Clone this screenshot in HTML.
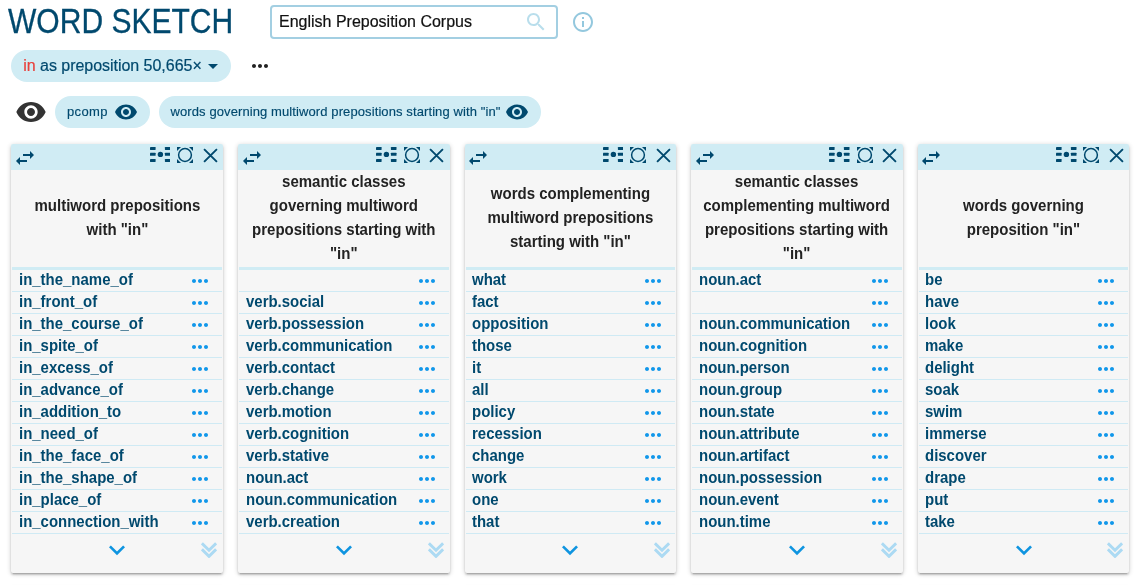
<!DOCTYPE html>
<html lang="en"><head><meta charset="utf-8"><title>Word Sketch</title>
<style>
*{box-sizing:border-box;margin:0;padding:0}
html,body{width:1140px;height:585px;overflow:hidden;background:#fff}
body{font-family:"Liberation Sans",sans-serif;color:#00496e;position:relative}
svg{display:block}
.title{position:absolute;left:8px;top:1px;font-size:35px;line-height:40px;color:#00496e;white-space:nowrap;font-weight:400;transform-origin:0 0;transform:scaleX(.858);-webkit-text-stroke:.3px #00496e}
.search{position:absolute;left:270px;top:5px;width:288px;height:34px;border:2px solid #a3cfe2;border-radius:4px;background:#fff}
.search span{position:absolute;left:7px;top:-.5px;line-height:30px;font-size:16px;color:#111;white-space:nowrap;-webkit-text-stroke:.2px}
.search svg{position:absolute;right:7.800px;top:2.600px;width:24px;height:24px;fill:#b9deec}
.info{position:absolute;left:570.500px;top:10px;width:24px;height:24px;fill:#94c8de}
.chip{position:absolute;background:#d0ecf4;border-radius:16px;height:32px;white-space:nowrap;color:#00496e}
.chip1{left:11px;top:50px;width:220px;font-size:16px;line-height:32px;padding-left:12.200px;letter-spacing:-.03px;-webkit-text-stroke:.2px}
.chip1 b{font-weight:400;color:#e8413c}
.chip1 svg{position:absolute;left:190px;top:4px;width:24px;height:24px;fill:#00496e}
.more{position:absolute;left:248px;top:54px;width:24px;height:24px;fill:#222}
.bigeye{position:absolute;left:15px;top:96px;width:32px;height:32px;fill:#333}
.chip2{-webkit-text-stroke:.15px;left:55px;top:96px;width:95px;font-size:13px;letter-spacing:.35px;line-height:32px;padding-left:12px}
.chip3{-webkit-text-stroke:.15px;left:159px;top:96px;width:382px;font-size:13px;letter-spacing:.1px;line-height:32px;padding-left:11.500px}
.chip svg.eye{position:absolute;right:12.500px;top:4px;width:24px;height:24px;fill:#00496e}
.card{position:absolute;top:144px;border-radius:2px;overflow:hidden;width:211.600px;height:429px;background:#f6f6f6;box-shadow:0 2px 2px 0 rgba(0,0,0,.14),0 3px 1px -2px rgba(0,0,0,.12),0 1px 5px 0 rgba(0,0,0,.2)}
.hd{position:absolute;left:0;top:0;right:0;height:26px;background:#d0ecf4;color:#00496e}
.hd svg{position:absolute;fill:currentColor}
.i-swap{left:1.500px;top:2.400px;width:24px;height:24px}
.i-vis{left:138.300px;top:3.200px;width:20.500px;height:15px}
.i-circ{left:165.500px;top:3px;width:16px;height:16px}
.i-x{left:191.200px;top:3.500px;width:15px;height:15px}
.tt{position:absolute;left:-10px;right:-10px;top:25px;height:97px;display:flex;align-items:center;justify-content:center;text-align:center;font-weight:700;font-size:16px;line-height:24px;color:#222;white-space:nowrap}
.tt div{transform:scaleX(.9375)}
.tb{position:absolute;left:1px;right:1px;top:123px;border-top:3px solid #d0ecf4}
.r{height:22px;border-bottom:1px solid #cfeaf4;position:relative;font-weight:700;font-size:16px;line-height:19px;padding-left:6.600px;color:#00496e;white-space:nowrap}
.r span{display:inline-block;transform-origin:0 50%;transform:scaleX(.935)}
.r svg{position:absolute;left:175.500px;top:-1px;width:24px;height:24px;fill:#1197ea}
.ft svg{position:absolute}
.i-chev{left:89.800px;top:390px;width:32px;height:32px;fill:#0e94e0}
.i-chev2{left:189.700px;top:398.200px;width:16px;height:16px;color:#acdaf3}
</style></head><body>
<div class="title">WORD SKETCH</div>
<div class="search"><span>English Preposition Corpus</span><svg viewBox="0 0 24 24"><path d="M15.500 14h-.79l-.28-.27C15.410 12.590 16 11.110 16 9.500 16 5.910 13.090 3 9.500 3S3 5.910 3 9.500 5.910 16 9.500 16c1.610 0 3.090-.59 4.230-1.570l.27.28v.79l5 4.990L20.490 19l-4.990-5zm-6 0C7.010 14 5 11.990 5 9.500S7.010 5 9.500 5 14 7.010 14 9.500 11.990 14 9.500 14z"/></svg></div>
<svg class="info" viewBox="0 0 24 24"><path d="M11 17h2v-6h-2v6zm1-15C6.480 2 2 6.480 2 12s4.480 10 10 10 10-4.480 10-10S17.520 2 12 2zm0 18c-4.410 0-8-3.590-8-8s3.590-8 8-8 8 3.590 8 8-3.590 8-8 8zM11 9h2V7h-2v2z"/></svg>
<div class="chip chip1"><b>in</b> as preposition 50,665× <svg viewBox="0 0 24 24"><path d="M7 10l5 5 5-5z"/></svg></div>
<svg class="more" viewBox="0 0 24 24"><path d="M6 10c-1.100 0-2 .9-2 2s.9 2 2 2 2-.9 2-2-.9-2-2-2zm12 0c-1.100 0-2 .9-2 2s.9 2 2 2 2-.9 2-2-.9-2-2-2zm-6 0c-1.100 0-2 .9-2 2s.9 2 2 2 2-.9 2-2-.9-2-2-2z"/></svg>
<svg class="bigeye" viewBox="0 0 24 24"><path d="M12 4.500C7 4.500 2.730 7.610 1 12c1.730 4.390 6 7.500 11 7.500s9.270-3.110 11-7.500c-1.730-4.390-6-7.500-11-7.500zM12 17c-2.760 0-5-2.240-5-5s2.240-5 5-5 5 2.240 5 5-2.240 5-5 5zm0-8c-1.660 0-3 1.340-3 3s1.340 3 3 3 3-1.340 3-3-1.340-3-3-3z"/></svg>
<div class="chip chip2">pcomp<svg class="eye" viewBox="0 0 24 24"><path d="M12 4.500C7 4.500 2.730 7.610 1 12c1.730 4.390 6 7.500 11 7.500s9.270-3.110 11-7.500c-1.730-4.390-6-7.500-11-7.500zM12 17c-2.760 0-5-2.240-5-5s2.240-5 5-5 5 2.240 5 5-2.240 5-5 5zm0-8c-1.660 0-3 1.340-3 3s1.340 3 3 3 3-1.340 3-3-1.340-3-3-3z"/></svg></div>
<div class="chip chip3">words governing multiword prepositions starting with "in"<svg class="eye" viewBox="0 0 24 24"><path d="M12 4.500C7 4.500 2.730 7.610 1 12c1.730 4.390 6 7.500 11 7.500s9.270-3.110 11-7.500c-1.730-4.390-6-7.500-11-7.500zM12 17c-2.760 0-5-2.240-5-5s2.240-5 5-5 5 2.240 5 5-2.240 5-5 5zm0-8c-1.660 0-3 1.340-3 3s1.340 3 3 3 3-1.340 3-3-1.340-3-3-3z"/></svg></div>
<div class="card" style="left:11.40px">
<div class="hd"><svg class="i-swap" viewBox="0 0 24 24"><path d="M6.99 11L3 15l3.990 4v-3H14v-2H6.990v-3zM21 9l-3.990-4v3H10v2h7.010v3L21 9z"/></svg><svg class="i-vis" viewBox="0 0 20.500 15"><g fill="currentColor"><rect x="0" y="0" width="5.600" height="2.900" rx="0.400"/><rect x="0" y="5.800" width="5.600" height="3" rx="0.400"/><rect x="0" y="12" width="5.600" height="3" rx="0.400"/><rect x="14.900" y="0" width="5.600" height="2.900" rx="0.400"/><rect x="14.900" y="5.800" width="5.600" height="3" rx="0.400"/><rect x="14.900" y="12" width="5.600" height="3" rx="0.400"/><circle cx="10.400" cy="7.400" r="2.700"/></g></svg><svg class="i-circ" viewBox="0 0 16 16"><circle cx="8" cy="8" r="6.400" fill="none" stroke="currentColor" stroke-width="1.500"/><g fill="currentColor"><path d="M0 0h4L0 4z"/><path d="M16 0h-4l4 4z"/><path d="M0 16h4L0 12z"/><path d="M16 16h-4l4-4z"/></g></svg><svg class="i-x" viewBox="0 0 14 14"><path d="M1 1L13 13M13 1L1 13" stroke="currentColor" stroke-width="1.800" fill="none"/></svg></div>
<div class="tt"><div>multiword prepositions<br>with "in"</div></div>
<div class="tb">
<div class="r"><span>in_the_name_of</span><svg viewBox="0 0 24 24"><path d="M6 10c-1.100 0-2 .9-2 2s.9 2 2 2 2-.9 2-2-.9-2-2-2zm12 0c-1.100 0-2 .9-2 2s.9 2 2 2 2-.9 2-2-.9-2-2-2zm-6 0c-1.100 0-2 .9-2 2s.9 2 2 2 2-.9 2-2-.9-2-2-2z"/></svg></div>
<div class="r"><span>in_front_of</span><svg viewBox="0 0 24 24"><path d="M6 10c-1.100 0-2 .9-2 2s.9 2 2 2 2-.9 2-2-.9-2-2-2zm12 0c-1.100 0-2 .9-2 2s.9 2 2 2 2-.9 2-2-.9-2-2-2zm-6 0c-1.100 0-2 .9-2 2s.9 2 2 2 2-.9 2-2-.9-2-2-2z"/></svg></div>
<div class="r"><span>in_the_course_of</span><svg viewBox="0 0 24 24"><path d="M6 10c-1.100 0-2 .9-2 2s.9 2 2 2 2-.9 2-2-.9-2-2-2zm12 0c-1.100 0-2 .9-2 2s.9 2 2 2 2-.9 2-2-.9-2-2-2zm-6 0c-1.100 0-2 .9-2 2s.9 2 2 2 2-.9 2-2-.9-2-2-2z"/></svg></div>
<div class="r"><span>in_spite_of</span><svg viewBox="0 0 24 24"><path d="M6 10c-1.100 0-2 .9-2 2s.9 2 2 2 2-.9 2-2-.9-2-2-2zm12 0c-1.100 0-2 .9-2 2s.9 2 2 2 2-.9 2-2-.9-2-2-2zm-6 0c-1.100 0-2 .9-2 2s.9 2 2 2 2-.9 2-2-.9-2-2-2z"/></svg></div>
<div class="r"><span>in_excess_of</span><svg viewBox="0 0 24 24"><path d="M6 10c-1.100 0-2 .9-2 2s.9 2 2 2 2-.9 2-2-.9-2-2-2zm12 0c-1.100 0-2 .9-2 2s.9 2 2 2 2-.9 2-2-.9-2-2-2zm-6 0c-1.100 0-2 .9-2 2s.9 2 2 2 2-.9 2-2-.9-2-2-2z"/></svg></div>
<div class="r"><span>in_advance_of</span><svg viewBox="0 0 24 24"><path d="M6 10c-1.100 0-2 .9-2 2s.9 2 2 2 2-.9 2-2-.9-2-2-2zm12 0c-1.100 0-2 .9-2 2s.9 2 2 2 2-.9 2-2-.9-2-2-2zm-6 0c-1.100 0-2 .9-2 2s.9 2 2 2 2-.9 2-2-.9-2-2-2z"/></svg></div>
<div class="r"><span>in_addition_to</span><svg viewBox="0 0 24 24"><path d="M6 10c-1.100 0-2 .9-2 2s.9 2 2 2 2-.9 2-2-.9-2-2-2zm12 0c-1.100 0-2 .9-2 2s.9 2 2 2 2-.9 2-2-.9-2-2-2zm-6 0c-1.100 0-2 .9-2 2s.9 2 2 2 2-.9 2-2-.9-2-2-2z"/></svg></div>
<div class="r"><span>in_need_of</span><svg viewBox="0 0 24 24"><path d="M6 10c-1.100 0-2 .9-2 2s.9 2 2 2 2-.9 2-2-.9-2-2-2zm12 0c-1.100 0-2 .9-2 2s.9 2 2 2 2-.9 2-2-.9-2-2-2zm-6 0c-1.100 0-2 .9-2 2s.9 2 2 2 2-.9 2-2-.9-2-2-2z"/></svg></div>
<div class="r"><span>in_the_face_of</span><svg viewBox="0 0 24 24"><path d="M6 10c-1.100 0-2 .9-2 2s.9 2 2 2 2-.9 2-2-.9-2-2-2zm12 0c-1.100 0-2 .9-2 2s.9 2 2 2 2-.9 2-2-.9-2-2-2zm-6 0c-1.100 0-2 .9-2 2s.9 2 2 2 2-.9 2-2-.9-2-2-2z"/></svg></div>
<div class="r"><span>in_the_shape_of</span><svg viewBox="0 0 24 24"><path d="M6 10c-1.100 0-2 .9-2 2s.9 2 2 2 2-.9 2-2-.9-2-2-2zm12 0c-1.100 0-2 .9-2 2s.9 2 2 2 2-.9 2-2-.9-2-2-2zm-6 0c-1.100 0-2 .9-2 2s.9 2 2 2 2-.9 2-2-.9-2-2-2z"/></svg></div>
<div class="r"><span>in_place_of</span><svg viewBox="0 0 24 24"><path d="M6 10c-1.100 0-2 .9-2 2s.9 2 2 2 2-.9 2-2-.9-2-2-2zm12 0c-1.100 0-2 .9-2 2s.9 2 2 2 2-.9 2-2-.9-2-2-2zm-6 0c-1.100 0-2 .9-2 2s.9 2 2 2 2-.9 2-2-.9-2-2-2z"/></svg></div>
<div class="r"><span>in_connection_with</span><svg viewBox="0 0 24 24"><path d="M6 10c-1.100 0-2 .9-2 2s.9 2 2 2 2-.9 2-2-.9-2-2-2zm12 0c-1.100 0-2 .9-2 2s.9 2 2 2 2-.9 2-2-.9-2-2-2zm-6 0c-1.100 0-2 .9-2 2s.9 2 2 2 2-.9 2-2-.9-2-2-2z"/></svg></div>
</div>
<div class="ft"><svg class="i-chev" viewBox="0 0 24 24"><path d="M16.590 8.590L12 13.170 7.410 8.590 6 10l6 6 6-6z"/></svg><svg class="i-chev2" viewBox="0 0 16 16"><path d="M0.900 1.300L8 8.300L15.100 1.300M0.900 7.400L8 14.400L15.100 7.400" fill="none" stroke="currentColor" stroke-width="2.900"/></svg></div>
</div>
<div class="card" style="left:238.00px">
<div class="hd"><svg class="i-swap" viewBox="0 0 24 24"><path d="M6.99 11L3 15l3.990 4v-3H14v-2H6.990v-3zM21 9l-3.990-4v3H10v2h7.010v3L21 9z"/></svg><svg class="i-vis" viewBox="0 0 20.500 15"><g fill="currentColor"><rect x="0" y="0" width="5.600" height="2.900" rx="0.400"/><rect x="0" y="5.800" width="5.600" height="3" rx="0.400"/><rect x="0" y="12" width="5.600" height="3" rx="0.400"/><rect x="14.900" y="0" width="5.600" height="2.900" rx="0.400"/><rect x="14.900" y="5.800" width="5.600" height="3" rx="0.400"/><rect x="14.900" y="12" width="5.600" height="3" rx="0.400"/><circle cx="10.400" cy="7.400" r="2.700"/></g></svg><svg class="i-circ" viewBox="0 0 16 16"><circle cx="8" cy="8" r="6.400" fill="none" stroke="currentColor" stroke-width="1.500"/><g fill="currentColor"><path d="M0 0h4L0 4z"/><path d="M16 0h-4l4 4z"/><path d="M0 16h4L0 12z"/><path d="M16 16h-4l4-4z"/></g></svg><svg class="i-x" viewBox="0 0 14 14"><path d="M1 1L13 13M13 1L1 13" stroke="currentColor" stroke-width="1.800" fill="none"/></svg></div>
<div class="tt"><div>semantic classes<br>governing multiword<br>prepositions starting with<br>"in"</div></div>
<div class="tb">
<div class="r"><span></span><svg viewBox="0 0 24 24"><path d="M6 10c-1.100 0-2 .9-2 2s.9 2 2 2 2-.9 2-2-.9-2-2-2zm12 0c-1.100 0-2 .9-2 2s.9 2 2 2 2-.9 2-2-.9-2-2-2zm-6 0c-1.100 0-2 .9-2 2s.9 2 2 2 2-.9 2-2-.9-2-2-2z"/></svg></div>
<div class="r"><span>verb.social</span><svg viewBox="0 0 24 24"><path d="M6 10c-1.100 0-2 .9-2 2s.9 2 2 2 2-.9 2-2-.9-2-2-2zm12 0c-1.100 0-2 .9-2 2s.9 2 2 2 2-.9 2-2-.9-2-2-2zm-6 0c-1.100 0-2 .9-2 2s.9 2 2 2 2-.9 2-2-.9-2-2-2z"/></svg></div>
<div class="r"><span>verb.possession</span><svg viewBox="0 0 24 24"><path d="M6 10c-1.100 0-2 .9-2 2s.9 2 2 2 2-.9 2-2-.9-2-2-2zm12 0c-1.100 0-2 .9-2 2s.9 2 2 2 2-.9 2-2-.9-2-2-2zm-6 0c-1.100 0-2 .9-2 2s.9 2 2 2 2-.9 2-2-.9-2-2-2z"/></svg></div>
<div class="r"><span>verb.communication</span><svg viewBox="0 0 24 24"><path d="M6 10c-1.100 0-2 .9-2 2s.9 2 2 2 2-.9 2-2-.9-2-2-2zm12 0c-1.100 0-2 .9-2 2s.9 2 2 2 2-.9 2-2-.9-2-2-2zm-6 0c-1.100 0-2 .9-2 2s.9 2 2 2 2-.9 2-2-.9-2-2-2z"/></svg></div>
<div class="r"><span>verb.contact</span><svg viewBox="0 0 24 24"><path d="M6 10c-1.100 0-2 .9-2 2s.9 2 2 2 2-.9 2-2-.9-2-2-2zm12 0c-1.100 0-2 .9-2 2s.9 2 2 2 2-.9 2-2-.9-2-2-2zm-6 0c-1.100 0-2 .9-2 2s.9 2 2 2 2-.9 2-2-.9-2-2-2z"/></svg></div>
<div class="r"><span>verb.change</span><svg viewBox="0 0 24 24"><path d="M6 10c-1.100 0-2 .9-2 2s.9 2 2 2 2-.9 2-2-.9-2-2-2zm12 0c-1.100 0-2 .9-2 2s.9 2 2 2 2-.9 2-2-.9-2-2-2zm-6 0c-1.100 0-2 .9-2 2s.9 2 2 2 2-.9 2-2-.9-2-2-2z"/></svg></div>
<div class="r"><span>verb.motion</span><svg viewBox="0 0 24 24"><path d="M6 10c-1.100 0-2 .9-2 2s.9 2 2 2 2-.9 2-2-.9-2-2-2zm12 0c-1.100 0-2 .9-2 2s.9 2 2 2 2-.9 2-2-.9-2-2-2zm-6 0c-1.100 0-2 .9-2 2s.9 2 2 2 2-.9 2-2-.9-2-2-2z"/></svg></div>
<div class="r"><span>verb.cognition</span><svg viewBox="0 0 24 24"><path d="M6 10c-1.100 0-2 .9-2 2s.9 2 2 2 2-.9 2-2-.9-2-2-2zm12 0c-1.100 0-2 .9-2 2s.9 2 2 2 2-.9 2-2-.9-2-2-2zm-6 0c-1.100 0-2 .9-2 2s.9 2 2 2 2-.9 2-2-.9-2-2-2z"/></svg></div>
<div class="r"><span>verb.stative</span><svg viewBox="0 0 24 24"><path d="M6 10c-1.100 0-2 .9-2 2s.9 2 2 2 2-.9 2-2-.9-2-2-2zm12 0c-1.100 0-2 .9-2 2s.9 2 2 2 2-.9 2-2-.9-2-2-2zm-6 0c-1.100 0-2 .9-2 2s.9 2 2 2 2-.9 2-2-.9-2-2-2z"/></svg></div>
<div class="r"><span>noun.act</span><svg viewBox="0 0 24 24"><path d="M6 10c-1.100 0-2 .9-2 2s.9 2 2 2 2-.9 2-2-.9-2-2-2zm12 0c-1.100 0-2 .9-2 2s.9 2 2 2 2-.9 2-2-.9-2-2-2zm-6 0c-1.100 0-2 .9-2 2s.9 2 2 2 2-.9 2-2-.9-2-2-2z"/></svg></div>
<div class="r"><span>noun.communication</span><svg viewBox="0 0 24 24"><path d="M6 10c-1.100 0-2 .9-2 2s.9 2 2 2 2-.9 2-2-.9-2-2-2zm12 0c-1.100 0-2 .9-2 2s.9 2 2 2 2-.9 2-2-.9-2-2-2zm-6 0c-1.100 0-2 .9-2 2s.9 2 2 2 2-.9 2-2-.9-2-2-2z"/></svg></div>
<div class="r"><span>verb.creation</span><svg viewBox="0 0 24 24"><path d="M6 10c-1.100 0-2 .9-2 2s.9 2 2 2 2-.9 2-2-.9-2-2-2zm12 0c-1.100 0-2 .9-2 2s.9 2 2 2 2-.9 2-2-.9-2-2-2zm-6 0c-1.100 0-2 .9-2 2s.9 2 2 2 2-.9 2-2-.9-2-2-2z"/></svg></div>
</div>
<div class="ft"><svg class="i-chev" viewBox="0 0 24 24"><path d="M16.590 8.590L12 13.170 7.410 8.590 6 10l6 6 6-6z"/></svg><svg class="i-chev2" viewBox="0 0 16 16"><path d="M0.900 1.300L8 8.300L15.100 1.300M0.900 7.400L8 14.400L15.100 7.400" fill="none" stroke="currentColor" stroke-width="2.900"/></svg></div>
</div>
<div class="card" style="left:464.60px">
<div class="hd"><svg class="i-swap" viewBox="0 0 24 24"><path d="M6.99 11L3 15l3.990 4v-3H14v-2H6.990v-3zM21 9l-3.990-4v3H10v2h7.010v3L21 9z"/></svg><svg class="i-vis" viewBox="0 0 20.500 15"><g fill="currentColor"><rect x="0" y="0" width="5.600" height="2.900" rx="0.400"/><rect x="0" y="5.800" width="5.600" height="3" rx="0.400"/><rect x="0" y="12" width="5.600" height="3" rx="0.400"/><rect x="14.900" y="0" width="5.600" height="2.900" rx="0.400"/><rect x="14.900" y="5.800" width="5.600" height="3" rx="0.400"/><rect x="14.900" y="12" width="5.600" height="3" rx="0.400"/><circle cx="10.400" cy="7.400" r="2.700"/></g></svg><svg class="i-circ" viewBox="0 0 16 16"><circle cx="8" cy="8" r="6.400" fill="none" stroke="currentColor" stroke-width="1.500"/><g fill="currentColor"><path d="M0 0h4L0 4z"/><path d="M16 0h-4l4 4z"/><path d="M0 16h4L0 12z"/><path d="M16 16h-4l4-4z"/></g></svg><svg class="i-x" viewBox="0 0 14 14"><path d="M1 1L13 13M13 1L1 13" stroke="currentColor" stroke-width="1.800" fill="none"/></svg></div>
<div class="tt"><div>words complementing<br>multiword prepositions<br>starting with "in"</div></div>
<div class="tb">
<div class="r"><span>what</span><svg viewBox="0 0 24 24"><path d="M6 10c-1.100 0-2 .9-2 2s.9 2 2 2 2-.9 2-2-.9-2-2-2zm12 0c-1.100 0-2 .9-2 2s.9 2 2 2 2-.9 2-2-.9-2-2-2zm-6 0c-1.100 0-2 .9-2 2s.9 2 2 2 2-.9 2-2-.9-2-2-2z"/></svg></div>
<div class="r"><span>fact</span><svg viewBox="0 0 24 24"><path d="M6 10c-1.100 0-2 .9-2 2s.9 2 2 2 2-.9 2-2-.9-2-2-2zm12 0c-1.100 0-2 .9-2 2s.9 2 2 2 2-.9 2-2-.9-2-2-2zm-6 0c-1.100 0-2 .9-2 2s.9 2 2 2 2-.9 2-2-.9-2-2-2z"/></svg></div>
<div class="r"><span>opposition</span><svg viewBox="0 0 24 24"><path d="M6 10c-1.100 0-2 .9-2 2s.9 2 2 2 2-.9 2-2-.9-2-2-2zm12 0c-1.100 0-2 .9-2 2s.9 2 2 2 2-.9 2-2-.9-2-2-2zm-6 0c-1.100 0-2 .9-2 2s.9 2 2 2 2-.9 2-2-.9-2-2-2z"/></svg></div>
<div class="r"><span>those</span><svg viewBox="0 0 24 24"><path d="M6 10c-1.100 0-2 .9-2 2s.9 2 2 2 2-.9 2-2-.9-2-2-2zm12 0c-1.100 0-2 .9-2 2s.9 2 2 2 2-.9 2-2-.9-2-2-2zm-6 0c-1.100 0-2 .9-2 2s.9 2 2 2 2-.9 2-2-.9-2-2-2z"/></svg></div>
<div class="r"><span>it</span><svg viewBox="0 0 24 24"><path d="M6 10c-1.100 0-2 .9-2 2s.9 2 2 2 2-.9 2-2-.9-2-2-2zm12 0c-1.100 0-2 .9-2 2s.9 2 2 2 2-.9 2-2-.9-2-2-2zm-6 0c-1.100 0-2 .9-2 2s.9 2 2 2 2-.9 2-2-.9-2-2-2z"/></svg></div>
<div class="r"><span>all</span><svg viewBox="0 0 24 24"><path d="M6 10c-1.100 0-2 .9-2 2s.9 2 2 2 2-.9 2-2-.9-2-2-2zm12 0c-1.100 0-2 .9-2 2s.9 2 2 2 2-.9 2-2-.9-2-2-2zm-6 0c-1.100 0-2 .9-2 2s.9 2 2 2 2-.9 2-2-.9-2-2-2z"/></svg></div>
<div class="r"><span>policy</span><svg viewBox="0 0 24 24"><path d="M6 10c-1.100 0-2 .9-2 2s.9 2 2 2 2-.9 2-2-.9-2-2-2zm12 0c-1.100 0-2 .9-2 2s.9 2 2 2 2-.9 2-2-.9-2-2-2zm-6 0c-1.100 0-2 .9-2 2s.9 2 2 2 2-.9 2-2-.9-2-2-2z"/></svg></div>
<div class="r"><span>recession</span><svg viewBox="0 0 24 24"><path d="M6 10c-1.100 0-2 .9-2 2s.9 2 2 2 2-.9 2-2-.9-2-2-2zm12 0c-1.100 0-2 .9-2 2s.9 2 2 2 2-.9 2-2-.9-2-2-2zm-6 0c-1.100 0-2 .9-2 2s.9 2 2 2 2-.9 2-2-.9-2-2-2z"/></svg></div>
<div class="r"><span>change</span><svg viewBox="0 0 24 24"><path d="M6 10c-1.100 0-2 .9-2 2s.9 2 2 2 2-.9 2-2-.9-2-2-2zm12 0c-1.100 0-2 .9-2 2s.9 2 2 2 2-.9 2-2-.9-2-2-2zm-6 0c-1.100 0-2 .9-2 2s.9 2 2 2 2-.9 2-2-.9-2-2-2z"/></svg></div>
<div class="r"><span>work</span><svg viewBox="0 0 24 24"><path d="M6 10c-1.100 0-2 .9-2 2s.9 2 2 2 2-.9 2-2-.9-2-2-2zm12 0c-1.100 0-2 .9-2 2s.9 2 2 2 2-.9 2-2-.9-2-2-2zm-6 0c-1.100 0-2 .9-2 2s.9 2 2 2 2-.9 2-2-.9-2-2-2z"/></svg></div>
<div class="r"><span>one</span><svg viewBox="0 0 24 24"><path d="M6 10c-1.100 0-2 .9-2 2s.9 2 2 2 2-.9 2-2-.9-2-2-2zm12 0c-1.100 0-2 .9-2 2s.9 2 2 2 2-.9 2-2-.9-2-2-2zm-6 0c-1.100 0-2 .9-2 2s.9 2 2 2 2-.9 2-2-.9-2-2-2z"/></svg></div>
<div class="r"><span>that</span><svg viewBox="0 0 24 24"><path d="M6 10c-1.100 0-2 .9-2 2s.9 2 2 2 2-.9 2-2-.9-2-2-2zm12 0c-1.100 0-2 .9-2 2s.9 2 2 2 2-.9 2-2-.9-2-2-2zm-6 0c-1.100 0-2 .9-2 2s.9 2 2 2 2-.9 2-2-.9-2-2-2z"/></svg></div>
</div>
<div class="ft"><svg class="i-chev" viewBox="0 0 24 24"><path d="M16.590 8.590L12 13.170 7.410 8.590 6 10l6 6 6-6z"/></svg><svg class="i-chev2" viewBox="0 0 16 16"><path d="M0.900 1.300L8 8.300L15.100 1.300M0.900 7.400L8 14.400L15.100 7.400" fill="none" stroke="currentColor" stroke-width="2.900"/></svg></div>
</div>
<div class="card" style="left:691.20px">
<div class="hd"><svg class="i-swap" viewBox="0 0 24 24"><path d="M6.99 11L3 15l3.990 4v-3H14v-2H6.990v-3zM21 9l-3.990-4v3H10v2h7.010v3L21 9z"/></svg><svg class="i-vis" viewBox="0 0 20.500 15"><g fill="currentColor"><rect x="0" y="0" width="5.600" height="2.900" rx="0.400"/><rect x="0" y="5.800" width="5.600" height="3" rx="0.400"/><rect x="0" y="12" width="5.600" height="3" rx="0.400"/><rect x="14.900" y="0" width="5.600" height="2.900" rx="0.400"/><rect x="14.900" y="5.800" width="5.600" height="3" rx="0.400"/><rect x="14.900" y="12" width="5.600" height="3" rx="0.400"/><circle cx="10.400" cy="7.400" r="2.700"/></g></svg><svg class="i-circ" viewBox="0 0 16 16"><circle cx="8" cy="8" r="6.400" fill="none" stroke="currentColor" stroke-width="1.500"/><g fill="currentColor"><path d="M0 0h4L0 4z"/><path d="M16 0h-4l4 4z"/><path d="M0 16h4L0 12z"/><path d="M16 16h-4l4-4z"/></g></svg><svg class="i-x" viewBox="0 0 14 14"><path d="M1 1L13 13M13 1L1 13" stroke="currentColor" stroke-width="1.800" fill="none"/></svg></div>
<div class="tt"><div>semantic classes<br>complementing multiword<br>prepositions starting with<br>"in"</div></div>
<div class="tb">
<div class="r"><span>noun.act</span><svg viewBox="0 0 24 24"><path d="M6 10c-1.100 0-2 .9-2 2s.9 2 2 2 2-.9 2-2-.9-2-2-2zm12 0c-1.100 0-2 .9-2 2s.9 2 2 2 2-.9 2-2-.9-2-2-2zm-6 0c-1.100 0-2 .9-2 2s.9 2 2 2 2-.9 2-2-.9-2-2-2z"/></svg></div>
<div class="r"><span></span><svg viewBox="0 0 24 24"><path d="M6 10c-1.100 0-2 .9-2 2s.9 2 2 2 2-.9 2-2-.9-2-2-2zm12 0c-1.100 0-2 .9-2 2s.9 2 2 2 2-.9 2-2-.9-2-2-2zm-6 0c-1.100 0-2 .9-2 2s.9 2 2 2 2-.9 2-2-.9-2-2-2z"/></svg></div>
<div class="r"><span>noun.communication</span><svg viewBox="0 0 24 24"><path d="M6 10c-1.100 0-2 .9-2 2s.9 2 2 2 2-.9 2-2-.9-2-2-2zm12 0c-1.100 0-2 .9-2 2s.9 2 2 2 2-.9 2-2-.9-2-2-2zm-6 0c-1.100 0-2 .9-2 2s.9 2 2 2 2-.9 2-2-.9-2-2-2z"/></svg></div>
<div class="r"><span>noun.cognition</span><svg viewBox="0 0 24 24"><path d="M6 10c-1.100 0-2 .9-2 2s.9 2 2 2 2-.9 2-2-.9-2-2-2zm12 0c-1.100 0-2 .9-2 2s.9 2 2 2 2-.9 2-2-.9-2-2-2zm-6 0c-1.100 0-2 .9-2 2s.9 2 2 2 2-.9 2-2-.9-2-2-2z"/></svg></div>
<div class="r"><span>noun.person</span><svg viewBox="0 0 24 24"><path d="M6 10c-1.100 0-2 .9-2 2s.9 2 2 2 2-.9 2-2-.9-2-2-2zm12 0c-1.100 0-2 .9-2 2s.9 2 2 2 2-.9 2-2-.9-2-2-2zm-6 0c-1.100 0-2 .9-2 2s.9 2 2 2 2-.9 2-2-.9-2-2-2z"/></svg></div>
<div class="r"><span>noun.group</span><svg viewBox="0 0 24 24"><path d="M6 10c-1.100 0-2 .9-2 2s.9 2 2 2 2-.9 2-2-.9-2-2-2zm12 0c-1.100 0-2 .9-2 2s.9 2 2 2 2-.9 2-2-.9-2-2-2zm-6 0c-1.100 0-2 .9-2 2s.9 2 2 2 2-.9 2-2-.9-2-2-2z"/></svg></div>
<div class="r"><span>noun.state</span><svg viewBox="0 0 24 24"><path d="M6 10c-1.100 0-2 .9-2 2s.9 2 2 2 2-.9 2-2-.9-2-2-2zm12 0c-1.100 0-2 .9-2 2s.9 2 2 2 2-.9 2-2-.9-2-2-2zm-6 0c-1.100 0-2 .9-2 2s.9 2 2 2 2-.9 2-2-.9-2-2-2z"/></svg></div>
<div class="r"><span>noun.attribute</span><svg viewBox="0 0 24 24"><path d="M6 10c-1.100 0-2 .9-2 2s.9 2 2 2 2-.9 2-2-.9-2-2-2zm12 0c-1.100 0-2 .9-2 2s.9 2 2 2 2-.9 2-2-.9-2-2-2zm-6 0c-1.100 0-2 .9-2 2s.9 2 2 2 2-.9 2-2-.9-2-2-2z"/></svg></div>
<div class="r"><span>noun.artifact</span><svg viewBox="0 0 24 24"><path d="M6 10c-1.100 0-2 .9-2 2s.9 2 2 2 2-.9 2-2-.9-2-2-2zm12 0c-1.100 0-2 .9-2 2s.9 2 2 2 2-.9 2-2-.9-2-2-2zm-6 0c-1.100 0-2 .9-2 2s.9 2 2 2 2-.9 2-2-.9-2-2-2z"/></svg></div>
<div class="r"><span>noun.possession</span><svg viewBox="0 0 24 24"><path d="M6 10c-1.100 0-2 .9-2 2s.9 2 2 2 2-.9 2-2-.9-2-2-2zm12 0c-1.100 0-2 .9-2 2s.9 2 2 2 2-.9 2-2-.9-2-2-2zm-6 0c-1.100 0-2 .9-2 2s.9 2 2 2 2-.9 2-2-.9-2-2-2z"/></svg></div>
<div class="r"><span>noun.event</span><svg viewBox="0 0 24 24"><path d="M6 10c-1.100 0-2 .9-2 2s.9 2 2 2 2-.9 2-2-.9-2-2-2zm12 0c-1.100 0-2 .9-2 2s.9 2 2 2 2-.9 2-2-.9-2-2-2zm-6 0c-1.100 0-2 .9-2 2s.9 2 2 2 2-.9 2-2-.9-2-2-2z"/></svg></div>
<div class="r"><span>noun.time</span><svg viewBox="0 0 24 24"><path d="M6 10c-1.100 0-2 .9-2 2s.9 2 2 2 2-.9 2-2-.9-2-2-2zm12 0c-1.100 0-2 .9-2 2s.9 2 2 2 2-.9 2-2-.9-2-2-2zm-6 0c-1.100 0-2 .9-2 2s.9 2 2 2 2-.9 2-2-.9-2-2-2z"/></svg></div>
</div>
<div class="ft"><svg class="i-chev" viewBox="0 0 24 24"><path d="M16.590 8.590L12 13.170 7.410 8.590 6 10l6 6 6-6z"/></svg><svg class="i-chev2" viewBox="0 0 16 16"><path d="M0.900 1.300L8 8.300L15.100 1.300M0.900 7.400L8 14.400L15.100 7.400" fill="none" stroke="currentColor" stroke-width="2.900"/></svg></div>
</div>
<div class="card" style="left:917.80px">
<div class="hd"><svg class="i-swap" viewBox="0 0 24 24"><path d="M6.99 11L3 15l3.990 4v-3H14v-2H6.990v-3zM21 9l-3.990-4v3H10v2h7.010v3L21 9z"/></svg><svg class="i-vis" viewBox="0 0 20.500 15"><g fill="currentColor"><rect x="0" y="0" width="5.600" height="2.900" rx="0.400"/><rect x="0" y="5.800" width="5.600" height="3" rx="0.400"/><rect x="0" y="12" width="5.600" height="3" rx="0.400"/><rect x="14.900" y="0" width="5.600" height="2.900" rx="0.400"/><rect x="14.900" y="5.800" width="5.600" height="3" rx="0.400"/><rect x="14.900" y="12" width="5.600" height="3" rx="0.400"/><circle cx="10.400" cy="7.400" r="2.700"/></g></svg><svg class="i-circ" viewBox="0 0 16 16"><circle cx="8" cy="8" r="6.400" fill="none" stroke="currentColor" stroke-width="1.500"/><g fill="currentColor"><path d="M0 0h4L0 4z"/><path d="M16 0h-4l4 4z"/><path d="M0 16h4L0 12z"/><path d="M16 16h-4l4-4z"/></g></svg><svg class="i-x" viewBox="0 0 14 14"><path d="M1 1L13 13M13 1L1 13" stroke="currentColor" stroke-width="1.800" fill="none"/></svg></div>
<div class="tt"><div>words governing<br>preposition "in"</div></div>
<div class="tb">
<div class="r"><span>be</span><svg viewBox="0 0 24 24"><path d="M6 10c-1.100 0-2 .9-2 2s.9 2 2 2 2-.9 2-2-.9-2-2-2zm12 0c-1.100 0-2 .9-2 2s.9 2 2 2 2-.9 2-2-.9-2-2-2zm-6 0c-1.100 0-2 .9-2 2s.9 2 2 2 2-.9 2-2-.9-2-2-2z"/></svg></div>
<div class="r"><span>have</span><svg viewBox="0 0 24 24"><path d="M6 10c-1.100 0-2 .9-2 2s.9 2 2 2 2-.9 2-2-.9-2-2-2zm12 0c-1.100 0-2 .9-2 2s.9 2 2 2 2-.9 2-2-.9-2-2-2zm-6 0c-1.100 0-2 .9-2 2s.9 2 2 2 2-.9 2-2-.9-2-2-2z"/></svg></div>
<div class="r"><span>look</span><svg viewBox="0 0 24 24"><path d="M6 10c-1.100 0-2 .9-2 2s.9 2 2 2 2-.9 2-2-.9-2-2-2zm12 0c-1.100 0-2 .9-2 2s.9 2 2 2 2-.9 2-2-.9-2-2-2zm-6 0c-1.100 0-2 .9-2 2s.9 2 2 2 2-.9 2-2-.9-2-2-2z"/></svg></div>
<div class="r"><span>make</span><svg viewBox="0 0 24 24"><path d="M6 10c-1.100 0-2 .9-2 2s.9 2 2 2 2-.9 2-2-.9-2-2-2zm12 0c-1.100 0-2 .9-2 2s.9 2 2 2 2-.9 2-2-.9-2-2-2zm-6 0c-1.100 0-2 .9-2 2s.9 2 2 2 2-.9 2-2-.9-2-2-2z"/></svg></div>
<div class="r"><span>delight</span><svg viewBox="0 0 24 24"><path d="M6 10c-1.100 0-2 .9-2 2s.9 2 2 2 2-.9 2-2-.9-2-2-2zm12 0c-1.100 0-2 .9-2 2s.9 2 2 2 2-.9 2-2-.9-2-2-2zm-6 0c-1.100 0-2 .9-2 2s.9 2 2 2 2-.9 2-2-.9-2-2-2z"/></svg></div>
<div class="r"><span>soak</span><svg viewBox="0 0 24 24"><path d="M6 10c-1.100 0-2 .9-2 2s.9 2 2 2 2-.9 2-2-.9-2-2-2zm12 0c-1.100 0-2 .9-2 2s.9 2 2 2 2-.9 2-2-.9-2-2-2zm-6 0c-1.100 0-2 .9-2 2s.9 2 2 2 2-.9 2-2-.9-2-2-2z"/></svg></div>
<div class="r"><span>swim</span><svg viewBox="0 0 24 24"><path d="M6 10c-1.100 0-2 .9-2 2s.9 2 2 2 2-.9 2-2-.9-2-2-2zm12 0c-1.100 0-2 .9-2 2s.9 2 2 2 2-.9 2-2-.9-2-2-2zm-6 0c-1.100 0-2 .9-2 2s.9 2 2 2 2-.9 2-2-.9-2-2-2z"/></svg></div>
<div class="r"><span>immerse</span><svg viewBox="0 0 24 24"><path d="M6 10c-1.100 0-2 .9-2 2s.9 2 2 2 2-.9 2-2-.9-2-2-2zm12 0c-1.100 0-2 .9-2 2s.9 2 2 2 2-.9 2-2-.9-2-2-2zm-6 0c-1.100 0-2 .9-2 2s.9 2 2 2 2-.9 2-2-.9-2-2-2z"/></svg></div>
<div class="r"><span>discover</span><svg viewBox="0 0 24 24"><path d="M6 10c-1.100 0-2 .9-2 2s.9 2 2 2 2-.9 2-2-.9-2-2-2zm12 0c-1.100 0-2 .9-2 2s.9 2 2 2 2-.9 2-2-.9-2-2-2zm-6 0c-1.100 0-2 .9-2 2s.9 2 2 2 2-.9 2-2-.9-2-2-2z"/></svg></div>
<div class="r"><span>drape</span><svg viewBox="0 0 24 24"><path d="M6 10c-1.100 0-2 .9-2 2s.9 2 2 2 2-.9 2-2-.9-2-2-2zm12 0c-1.100 0-2 .9-2 2s.9 2 2 2 2-.9 2-2-.9-2-2-2zm-6 0c-1.100 0-2 .9-2 2s.9 2 2 2 2-.9 2-2-.9-2-2-2z"/></svg></div>
<div class="r"><span>put</span><svg viewBox="0 0 24 24"><path d="M6 10c-1.100 0-2 .9-2 2s.9 2 2 2 2-.9 2-2-.9-2-2-2zm12 0c-1.100 0-2 .9-2 2s.9 2 2 2 2-.9 2-2-.9-2-2-2zm-6 0c-1.100 0-2 .9-2 2s.9 2 2 2 2-.9 2-2-.9-2-2-2z"/></svg></div>
<div class="r"><span>take</span><svg viewBox="0 0 24 24"><path d="M6 10c-1.100 0-2 .9-2 2s.9 2 2 2 2-.9 2-2-.9-2-2-2zm12 0c-1.100 0-2 .9-2 2s.9 2 2 2 2-.9 2-2-.9-2-2-2zm-6 0c-1.100 0-2 .9-2 2s.9 2 2 2 2-.9 2-2-.9-2-2-2z"/></svg></div>
</div>
<div class="ft"><svg class="i-chev" viewBox="0 0 24 24"><path d="M16.590 8.590L12 13.170 7.410 8.590 6 10l6 6 6-6z"/></svg><svg class="i-chev2" viewBox="0 0 16 16"><path d="M0.900 1.300L8 8.300L15.100 1.300M0.900 7.400L8 14.400L15.100 7.400" fill="none" stroke="currentColor" stroke-width="2.900"/></svg></div>
</div>
<div class="card" style="left:11.40px;top:588px;height:200px"><div class="hd"></div></div>
<div class="card" style="left:238.00px;top:588px;height:200px"><div class="hd"></div></div>
<div class="card" style="left:464.60px;top:588px;height:200px"><div class="hd"></div></div>
<div class="card" style="left:691.20px;top:588px;height:200px"><div class="hd"></div></div>
<div class="card" style="left:917.80px;top:588px;height:200px"><div class="hd"></div></div>
</body></html>
